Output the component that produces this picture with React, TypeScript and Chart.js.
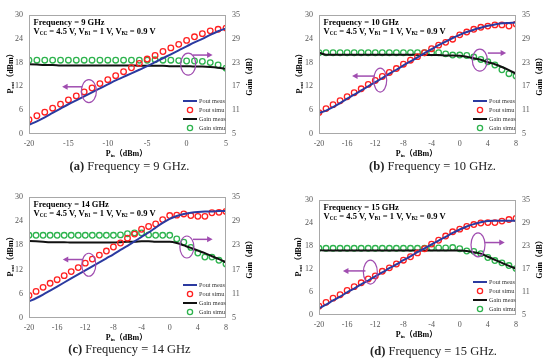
import React, { useEffect, useRef } from "react";
import { Chart, registerables } from "chart.js";
Chart.register(...registerables);

const FONT = '"Liberation Serif", "Noto Sans CJK SC", serif';

// ---------- data ----------
const pinA = [-20, -19, -18, -17, -16, -15, -14, -13, -12, -11, -10, -9, -8, -7, -6, -5, -4, -3, -2, -1, 0, 1, 2, 3, 4, 5];
const pinB = [-20, -19, -18, -17, -16, -15, -14, -13, -12, -11, -10, -9, -8, -7, -6, -5, -4, -3, -2, -1, 0, 1, 2, 3, 4, 5, 6, 7, 8];

const poutMeasA = [2.3, 3.2, 4.2, 5.3, 6.4, 7.5, 8.5, 9.5, 10.5, 11.5, 12.5, 13.5, 14.4, 15.3, 16.2, 17.1, 18.1, 19.1, 20.1, 21.1, 22.1, 23.1, 24.0, 25.0, 25.9, 26.6];
const poutSimuA = [3.6, 4.6, 5.5, 6.5, 7.5, 8.6, 9.6, 10.6, 11.6, 12.7, 13.7, 14.7, 15.7, 16.7, 17.8, 18.9, 19.8, 20.8, 21.7, 22.6, 23.6, 24.5, 25.3, 26.0, 26.4, 26.7];
const gainMeasA = [22.6, 22.5, 22.4, 22.4, 22.3, 22.3, 22.3, 22.3, 22.3, 22.3, 22.3, 22.3, 22.3, 22.3, 22.2, 22.2, 22.2, 22.2, 22.1, 22.1, 22.1, 22.0, 22.0, 21.9, 21.7, 21.4];
const gainSimuA = [23.6, 23.6, 23.6, 23.6, 23.6, 23.6, 23.6, 23.6, 23.6, 23.6, 23.6, 23.6, 23.6, 23.6, 23.6, 23.6, 23.7, 23.6, 23.6, 23.5, 23.4, 23.4, 23.3, 23.0, 22.4, 21.6];

const poutMeasB = [5.3, 5.9, 6.8, 7.8, 8.9, 9.9, 11.0, 12.0, 13.1, 14.1, 15.2, 16.2, 17.3, 18.3, 19.3, 20.4, 21.4, 22.4, 23.3, 24.2, 25.0, 25.7, 26.3, 26.8, 27.3, 27.6, 27.9, 28.0, 28.1];
const poutSimuB = [5.4, 6.4, 7.4, 8.4, 9.4, 10.4, 11.4, 12.5, 13.5, 14.5, 15.5, 16.5, 17.6, 18.6, 19.5, 20.5, 21.5, 22.4, 23.1, 23.9, 25.0, 25.7, 26.4, 26.9, 27.2, 27.5, 27.5, 27.2, 27.7];
const gainMeasB = [25.5, 25.0, 25.0, 25.0, 25.0, 25.0, 25.0, 25.0, 25.0, 25.0, 25.0, 25.0, 25.0, 25.0, 25.0, 24.9, 24.9, 24.9, 24.8, 24.8, 24.7, 24.5, 24.1, 23.7, 23.1, 22.6, 21.9, 21.1, 20.2];
const gainSimuB = [25.5, 25.5, 25.5, 25.5, 25.5, 25.5, 25.5, 25.5, 25.5, 25.5, 25.5, 25.5, 25.5, 25.5, 25.5, 25.5, 25.5, 25.5, 25.2, 24.9, 24.9, 24.8, 24.4, 23.8, 23.2, 22.4, 21.2, 20.2, 19.6];

const poutMeasC = [4.1, 4.9, 5.8, 6.8, 7.8, 8.8, 9.8, 10.8, 11.8, 12.8, 13.8, 14.8, 15.8, 16.9, 17.9, 19.0, 20.1, 21.2, 22.4, 23.6, 24.6, 25.3, 25.8, 26.1, 26.3, 26.4, 26.4, 26.5, 26.5];
const poutSimuC = [5.6, 6.6, 7.6, 8.6, 9.5, 10.5, 11.5, 12.5, 13.6, 14.6, 15.6, 16.6, 17.6, 18.6, 19.8, 20.8, 22.0, 22.7, 23.3, 24.4, 25.4, 25.5, 25.8, 25.4, 25.2, 25.2, 26.1, 26.2, 26.4];
const gainMeasC = [24.1, 24.0, 23.9, 23.8, 23.8, 23.8, 23.7, 23.7, 23.7, 23.7, 23.7, 23.7, 23.7, 23.8, 23.9, 23.9, 24.0, 24.0, 23.9, 23.9, 23.9, 23.6, 23.0, 22.4, 21.7, 21.1, 20.3, 19.6, 18.8];
const gainSimuC = [25.5, 25.5, 25.5, 25.5, 25.5, 25.5, 25.5, 25.5, 25.5, 25.5, 25.5, 25.5, 25.5, 25.6, 25.9, 26.1, 26.1, 25.6, 25.5, 25.5, 25.5, 24.6, 23.8, 22.5, 21.1, 20.1, 20.1, 19.3, 18.4];

const poutMeasD = [1.7, 2.7, 3.8, 4.8, 5.9, 6.9, 8.0, 9.0, 10.1, 11.1, 12.2, 13.2, 14.3, 15.3, 16.4, 17.4, 18.4, 19.4, 20.4, 21.4, 22.3, 23.1, 23.7, 24.2, 24.5, 24.6, 24.6, 24.6, 24.6];
const poutSimuD = [2.3, 3.3, 4.4, 5.3, 6.4, 7.4, 8.4, 9.4, 10.2, 11.4, 12.3, 13.3, 14.3, 15.2, 16.2, 17.3, 18.5, 19.5, 20.6, 21.7, 22.4, 23.1, 23.6, 24.0, 24.1, 24.1, 24.5, 24.9, 25.2];
const gainMeasD = [21.9, 21.8, 21.8, 21.8, 21.8, 21.8, 21.8, 21.8, 21.8, 21.8, 21.8, 21.8, 21.8, 21.8, 21.8, 21.8, 21.8, 21.8, 21.8, 21.8, 21.8, 21.7, 21.4, 21.0, 20.2, 19.4, 18.6, 17.8, 17.1];
const gainSimuD = [22.4, 22.4, 22.4, 22.4, 22.4, 22.4, 22.4, 22.4, 22.4, 22.4, 22.4, 22.4, 22.4, 22.4, 22.4, 22.4, 22.5, 22.5, 22.5, 22.6, 22.3, 21.7, 21.6, 21.0, 20.0, 19.2, 18.6, 17.9, 17.1];

const seriesNames = ["Pout meas", "Pout simu", "Gain meas", "Gain simu"];
const poutTicks = [0, 6, 12, 18, 24, 30];
const gainTicks = [5, 11, 17, 23, 29, 35];

// ---------- styling ----------
const BLUE = "#2b3aa0";
const RED = "#ff2020";
const BLACK = "#111111";
const GREEN = "#2db34d";
const PURPLE = "#a04db0";
const TICK = "#555555";

type Seg = { t: string; sub?: boolean };
type Ell = { x: number; y: number; axis: "yL" | "yR"; rx: number; ry: number };
type Arr = { x1: number; x2: number; y: number; axis: "yL" | "yR" };

interface PanelCfg {
  left: number; top: number;
  padTop: number; yLW: number; yRW: number; xH: number;
  xMax: number; xStep: number;
  pin: number[]; pm: number[]; ps: number[]; gm: number[]; gs: number[];
  freq: string; capLabel: string; capText: string; capTop: number; capDx: number;
  leftTitleDx: number;
  ellipses: Ell[]; arrows: Arr[];
}

function drawRich(ctx: CanvasRenderingContext2D, segs: Seg[], x: number, y: number, size: number, bold: boolean, align: "left" | "center") {
  const f = (sub?: boolean) => `${bold ? "bold " : ""}${sub ? size * 0.62 : size}px ${FONT}`;
  let total = 0;
  const ws = segs.map((s) => {
    ctx.font = f(s.sub);
    const w = ctx.measureText(s.t).width;
    total += w;
    return w;
  });
  let cx = align === "center" ? x - total / 2 : x;
  ctx.textAlign = "left";
  ctx.textBaseline = "middle";
  segs.forEach((s, i) => {
    ctx.font = f(s.sub);
    ctx.fillText(s.t, cx, s.sub ? y + size * 0.22 : y);
    cx += ws[i];
  });
}

const poutTitle: Seg[] = [{ t: "P" }, { t: "out", sub: true }, { t: "（dBm）" }];
const pinTitle: Seg[] = [{ t: "P" }, { t: "in", sub: true }, { t: "（dBm）" }];
const gainTitle: Seg[] = [{ t: "Gain（dB）" }];
const biasLine: Seg[] = [
  { t: "V" }, { t: "CC", sub: true }, { t: " = 4.5 V, V" }, { t: "B1", sub: true },
  { t: " = 1 V, V" }, { t: "B2", sub: true }, { t: " = 0.9 V" },
];

function Panel({ cfg }: { cfg: PanelCfg }) {
  const ref = useRef<HTMLCanvasElement | null>(null);
  useEffect(() => {
    if (!ref.current) return;
    const pts = (ys: number[]) => cfg.pin.map((x, i) => ({ x, y: ys[i] }));
    const decor = {
      id: "decor",
      afterDatasetsDraw(chart: any) {
        const ctx: CanvasRenderingContext2D = chart.ctx;
        const a = chart.chartArea;
        const sx = chart.scales.x;
        ctx.save();
        // box
        ctx.strokeStyle = "#a8a8a8";
        ctx.lineWidth = 1;
        ctx.strokeRect(Math.round(a.left) + 0.5, Math.round(a.top) + 0.5, Math.round(a.right - a.left) - 1, Math.round(a.bottom - a.top) - 1);
        // ellipses
        ctx.strokeStyle = PURPLE;
        ctx.lineWidth = 1.2;
        cfg.ellipses.forEach((e) => {
          const px = sx.getPixelForValue(e.x);
          const py = chart.scales[e.axis].getPixelForValue(e.y);
          ctx.beginPath();
          ctx.ellipse(px, py, e.rx, e.ry, 0, 0, Math.PI * 2);
          ctx.stroke();
        });
        // arrows
        ctx.fillStyle = PURPLE;
        ctx.lineWidth = 1.5;
        cfg.arrows.forEach((r) => {
          const p1 = sx.getPixelForValue(r.x1);
          const p2 = sx.getPixelForValue(r.x2);
          const py = chart.scales[r.axis].getPixelForValue(r.y);
          const dir = p2 > p1 ? 1 : -1;
          ctx.beginPath();
          ctx.moveTo(p1, py);
          ctx.lineTo(p2 - dir * 4, py);
          ctx.stroke();
          ctx.beginPath();
          ctx.moveTo(p2, py);
          ctx.lineTo(p2 - dir * 5.5, py - 3);
          ctx.lineTo(p2 - dir * 5.5, py + 3);
          ctx.closePath();
          ctx.fill();
        });
        // frequency text
        ctx.fillStyle = "#000";
        drawRich(ctx, [{ t: cfg.freq }], a.left + 4.5, a.top + 7.5, 8.5, true, "left");
        drawRich(ctx, biasLine, a.left + 4.5, a.top + 17, 8.5, true, "left");
        // legend
        const rows = [33, 24, 15, 6];
        const cols = [BLUE, RED, BLACK, GREEN];
        rows.forEach((dy, i) => {
          const y = a.bottom - dy;
          const x1 = a.right - 43;
          const x2 = a.right - 29;
          if (i % 2 === 0) {
            ctx.strokeStyle = cols[i];
            ctx.lineWidth = 2;
            ctx.beginPath();
            ctx.moveTo(x1, y);
            ctx.lineTo(x2, y);
            ctx.stroke();
          } else {
            ctx.strokeStyle = cols[i];
            ctx.lineWidth = 1.3;
            ctx.beginPath();
            ctx.arc((x1 + x2) / 2, y, 2.6, 0, Math.PI * 2);
            ctx.stroke();
          }
          ctx.fillStyle = "#333";
          ctx.font = `6.3px ${FONT}`;
          ctx.textAlign = "left";
          ctx.textBaseline = "middle";
          ctx.fillText(seriesNames[i], a.right - 27, y);
        });
        // axis titles
        ctx.fillStyle = "#000";
        const mid = (a.top + a.bottom) / 2;
        ctx.save();
        ctx.translate(a.left + cfg.leftTitleDx, mid - 3);
        ctx.rotate(-Math.PI / 2);
        drawRich(ctx, poutTitle, 0, 0, 8, true, "center");
        ctx.restore();
        ctx.save();
        ctx.translate(a.right + 24, mid);
        ctx.rotate(-Math.PI / 2);
        drawRich(ctx, gainTitle, 0, 0, 8, true, "center");
        ctx.restore();
        drawRich(ctx, pinTitle, (a.left + a.right) / 2 - 1, a.bottom + 19.5, 8, true, "center");
        ctx.restore();
      },
    };
    const tickFont = { family: FONT, size: 8 };
    const chart = new Chart(ref.current, {
      type: "line",
      data: {
        datasets: [
          { label: seriesNames[0], data: pts(cfg.pm), yAxisID: "yL", borderColor: BLUE, borderWidth: 2, pointRadius: 0, cubicInterpolationMode: "monotone", fill: false },
          { label: seriesNames[1], data: pts(cfg.ps), yAxisID: "yL", showLine: false, pointRadius: 2.8, pointBorderWidth: 1.3, pointBorderColor: RED, pointBackgroundColor: "rgba(0,0,0,0)", borderColor: RED },
          { label: seriesNames[2], data: pts(cfg.gm), yAxisID: "yR", borderColor: BLACK, borderWidth: 2, pointRadius: 0, cubicInterpolationMode: "monotone", fill: false },
          { label: seriesNames[3], data: pts(cfg.gs), yAxisID: "yR", showLine: false, pointRadius: 2.8, pointBorderWidth: 1.3, pointBorderColor: GREEN, pointBackgroundColor: "rgba(0,0,0,0)", borderColor: GREEN },
        ],
      } as any,
      options: {
        animation: false,
        responsive: false,
        devicePixelRatio: 1,
        layout: { padding: { top: cfg.padTop, left: 0, right: 0, bottom: 0 } },
        plugins: { legend: { display: false }, tooltip: { enabled: false } },
        elements: { point: { hitRadius: 0 } },
        scales: {
          x: {
            type: "linear", min: -20, max: cfg.xMax,
            ticks: { stepSize: cfg.xStep, font: tickFont, color: TICK, padding: 5, maxRotation: 0 },
            grid: { display: false, drawTicks: false },
            border: { display: false },
            afterFit: (s: any) => { s.height = cfg.xH; s.paddingLeft = 0; s.paddingRight = 0; },
          },
          yL: {
            position: "left", min: poutTicks[0], max: poutTicks[poutTicks.length - 1],
            afterBuildTicks: (s: any) => { s.ticks = poutTicks.map((v) => ({ value: v })); },
            ticks: { font: tickFont, color: TICK, padding: 6 },
            grid: { display: false, drawTicks: false },
            border: { display: false },
            afterFit: (s: any) => { s.width = cfg.yLW; s.paddingTop = 0; s.paddingBottom = 0; },
          },
          yR: {
            position: "right", min: gainTicks[0], max: gainTicks[gainTicks.length - 1],
            afterBuildTicks: (s: any) => { s.ticks = gainTicks.map((v) => ({ value: v })); },
            ticks: { font: tickFont, color: TICK, padding: 6 },
            grid: { display: false, drawTicks: false },
            border: { display: false },
            afterFit: (s: any) => { s.width = cfg.yRW; s.paddingTop = 0; s.paddingBottom = 0; },
          },
        },
      } as any,
      plugins: [decor],
    });
    return () => chart.destroy();
  }, [cfg]);
  return (
    <>
      <canvas ref={ref} width={275} height={182} style={{ position: "absolute", left: cfg.left, top: cfg.top, width: 275, height: 182 }} />
      <div style={{ position: "absolute", left: cfg.left + cfg.capDx, top: cfg.capTop, width: 275, textAlign: "center", font: `12.5px ${FONT}`, color: "#222", lineHeight: "15px", whiteSpace: "nowrap" }}>
        <b>{cfg.capLabel}</b> {cfg.capText}
      </div>
    </>
  );
}

const panels: PanelCfg[] = [
  {
    left: 0, top: 0, padTop: 15, yLW: 29, yRW: 49, xH: 48, xMax: 5, xStep: 5,
    pin: pinA, pm: poutMeasA, ps: poutSimuA, gm: gainMeasA, gs: gainSimuA,
    freq: "Frequency = 9 GHz", capLabel: "(a)", capText: "Frequency = 9 GHz.", capTop: 159, capDx: -8, leftTitleDx: -18,
    ellipses: [{ x: -12.4, y: 10.8, axis: "yL", rx: 7.5, ry: 11.5 }, { x: 0.2, y: 22.6, axis: "yR", rx: 7.5, ry: 11 }],
    arrows: [{ x1: -13.2, x2: -15.8, y: 11.9, axis: "yL" }, { x1: 0.8, x2: 3.3, y: 24.9, axis: "yR" }],
  },
  {
    left: 275, top: 0, padTop: 15, yLW: 44, yRW: 34, xH: 48, xMax: 8, xStep: 4,
    pin: pinB, pm: poutMeasB, ps: poutSimuB, gm: gainMeasB, gs: gainSimuB,
    freq: "Frequency = 10 GHz", capLabel: "(b)", capText: "Frequency = 10 GHz.", capTop: 159, capDx: 20, leftTitleDx: -19,
    ellipses: [{ x: -11.3, y: 13.6, axis: "yL", rx: 6.5, ry: 12 }, { x: 2.86, y: 23.6, axis: "yR", rx: 7.5, ry: 11 }],
    arrows: [{ x1: -12.1, x2: -15.3, y: 14.6, axis: "yL" }, { x1: 4.0, x2: 6.6, y: 25.4, axis: "yR" }],
  },
  {
    left: 0, top: 182, padTop: 15, yLW: 29, yRW: 49, xH: 46, xMax: 8, xStep: 4,
    pin: pinB, pm: poutMeasC, ps: poutSimuC, gm: gainMeasC, gs: gainSimuC,
    freq: "Frequency = 14 GHz", capLabel: "(c)", capText: "Frequency = 14 GHz", capTop: 342, capDx: -8, leftTitleDx: -18,
    ellipses: [{ x: -11.5, y: 13.2, axis: "yL", rx: 7, ry: 11.5 }, { x: 2.44, y: 22.6, axis: "yR", rx: 7, ry: 11 }],
    arrows: [{ x1: -12.3, x2: -15.2, y: 14.5, axis: "yL" }, { x1: 3.3, x2: 6.1, y: 24.5, axis: "yR" }],
  },
  {
    left: 275, top: 182, padTop: 18, yLW: 44, yRW: 34, xH: 49, xMax: 8, xStep: 4,
    pin: pinB, pm: poutMeasD, ps: poutSimuD, gm: gainMeasD, gs: gainSimuD,
    freq: "Frequency = 15 GHz", capLabel: "(d)", capText: "Frequency = 15 GHz.", capTop: 344, capDx: 21, leftTitleDx: -20,
    ellipses: [{ x: -12.7, y: 11.2, axis: "yL", rx: 7, ry: 12 }, { x: 2.6, y: 23.3, axis: "yR", rx: 7, ry: 12 }],
    arrows: [{ x1: -13.4, x2: -16.6, y: 11.5, axis: "yL" }, { x1: 3.6, x2: 6.4, y: 23.9, axis: "yR" }],
  },
];

export default function App() {
  return (
    <div style={{ position: "fixed", left: 0, top: 0, width: 550, height: 364, background: "#fff", overflow: "hidden" }}>
      {panels.map((p, i) => (
        <Panel key={i} cfg={p} />
      ))}
    </div>
  );
}
